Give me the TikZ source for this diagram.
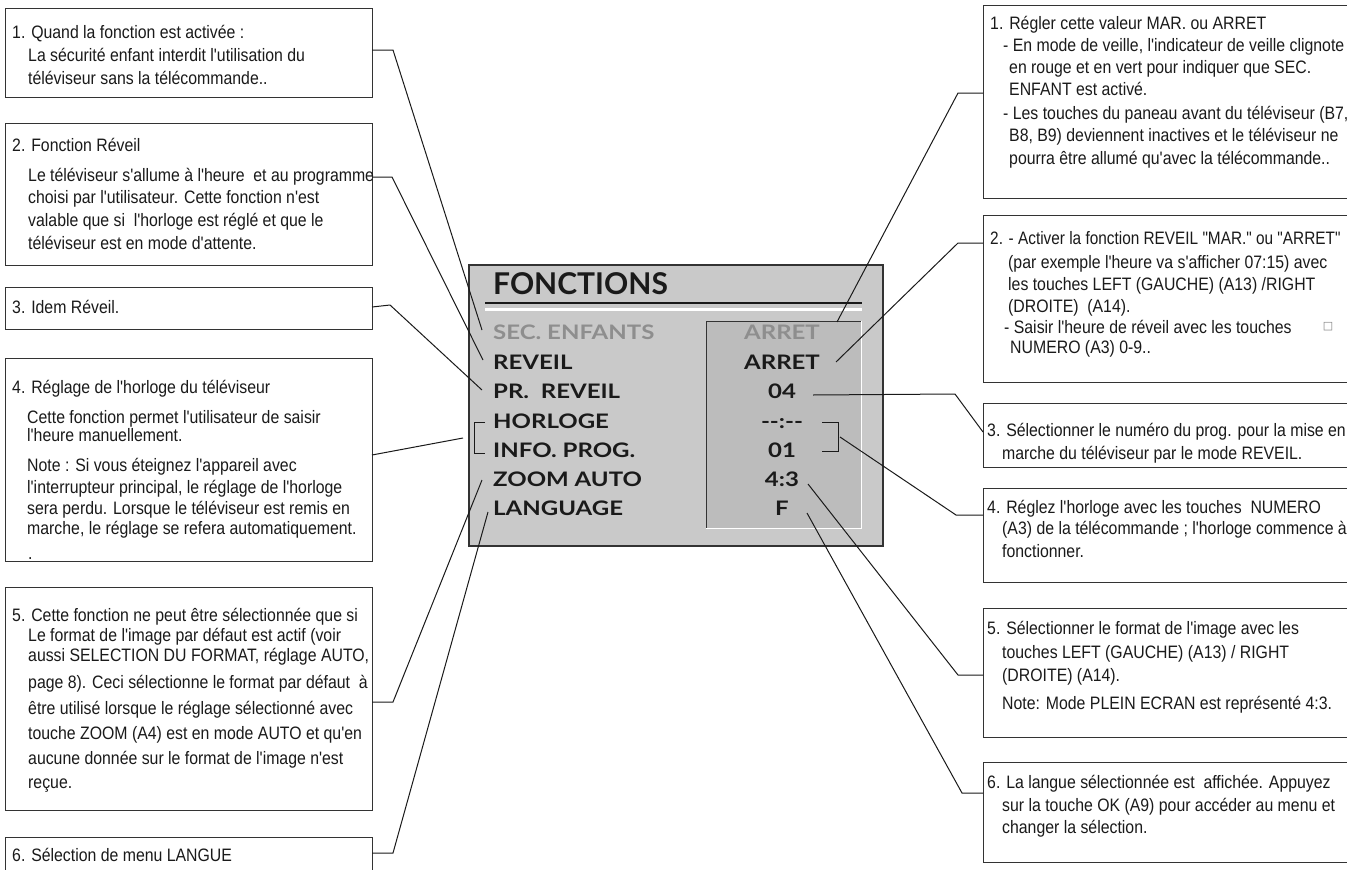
\documentclass[tikz,border=0pt]{standalone}
\usepackage{fontspec}
\usepackage{graphicx}
\setmainfont{Liberation Sans}
\newfontfamily\boxfont[FakeStretch=0.88,Ligatures=TeXOff]{Liberation Sans}
\newfontfamily\menufont[FakeStretch=1.2,Ligatures=TeXOff]{Lato}
\newfontfamily\titlefont{Lato}
\newfontfamily\symfont{DejaVu Sans}
\definecolor{ink}{HTML}{1A1A1A}
\definecolor{frame}{HTML}{333333}
\definecolor{panel}{HTML}{C9C9C9}
\definecolor{panelin}{HTML}{BCBCBC}
\definecolor{greytxt}{HTML}{8E8E8E}
\tikzset{
  bt/.style={font=\boxfont\fontsize{18}{22}\selectfont, text=ink, anchor=base west, inner sep=0pt},
  cbox/.style={draw=frame, line width=1.3pt, anchor=north west, inner sep=0pt},
  conn/.style={draw=ink, line width=1pt},
  mi/.style={font=\menufont\bfseries\fontsize{20}{20}\selectfont, text=ink, anchor=base west, inner sep=0pt},
  mv/.style={font=\menufont\bfseries\fontsize{20}{20}\selectfont, text=ink, anchor=base, inner sep=0pt}
}
\newcommand{\bxline}[4]{\node[bt] (#1) at (#2,#3+6.5) {#4};}
\newcommand{\cboxat}[5]{\node[cbox, minimum width=#4-#2, minimum height=#5-#3] (#1) at (#2,#3) {};}
\begin{document}
\begin{tikzpicture}[x=1pt,y=-1pt]
\useasboundingbox (0,0) rectangle (1347,870);
\fill[white] (0,0) rectangle (1347,870);

% ---------- left boxes ----------
\cboxat{L1}{5}{8}{372}{97}
\bxline{l1a}{12}{32}{1. Quand la fonction est activée :}
\bxline{l1b}{28}{55}{La sécurité enfant interdit l'utilisation du}
\bxline{l1c}{28}{78}{téléviseur sans la télécommande..}

\cboxat{L2}{5}{123}{372}{265}
\bxline{l2a}{12}{145}{2. Fonction Réveil}
\bxline{l2b}{28}{175}{Le téléviseur s'allume à l'heure\ \ et au programme}
\bxline{l2c}{28}{197}{choisi par l'utilisateur. Cette fonction n'est}
\bxline{l2d}{28}{220}{valable que si\ \ l'horloge est réglé et que le}
\bxline{l2e}{28}{243}{téléviseur est en mode d'attente.}

\cboxat{L3}{5}{287}{372}{329}
\bxline{l3a}{12}{307}{3. Idem Réveil.}

\cboxat{L4}{5}{358}{372}{561}
\bxline{l4a}{12}{387}{4. Réglage de l'horloge du téléviseur}
\bxline{l4b}{27}{417}{Cette fonction permet l'utilisateur de saisir}
\bxline{l4c}{27}{435}{l'heure manuellement.}
\bxline{l4d}{27}{465}{Note : Si vous éteignez l'appareil avec}
\bxline{l4e}{27}{487}{l'interrupteur principal, le réglage de l'horloge}
\bxline{l4f}{27}{508}{sera perdu. Lorsque le téléviseur est remis en}
\bxline{l4g}{27}{528}{marche, le réglage se refera automatiquement.}
\bxline{l4h}{28}{553}{.}

\cboxat{L5}{5}{587}{372}{810}
\bxline{l5a}{12}{615}{5. Cette fonction ne peut être sélectionnée que si}
\bxline{l5b}{28}{635}{Le format de l'image par défaut est actif (voir}
\bxline{l5c}{28}{655}{aussi SELECTION DU FORMAT, réglage AUTO,}
\bxline{l5d}{28}{682}{page 8). Ceci sélectionne le format par défaut\ \ à}
\bxline{l5e}{28}{708}{être utilisé lorsque le réglage sélectionné avec}
\bxline{l5f}{28}{733}{touche ZOOM (A4) est en mode AUTO et qu'en}
\bxline{l5g}{28}{758}{aucune donnée sur le format de l'image n'est}
\bxline{l5h}{28}{782}{reçue.}

\cboxat{L6}{5}{837}{372}{880}
\bxline{l6a}{12}{855}{6. Sélection de menu LANGUE}

% ---------- right boxes ----------
\cboxat{R1}{983}{5}{1355}{198}
\bxline{r1a}{990}{23}{1. Régler cette valeur MAR. ou ARRET}
\bxline{r1b}{1003}{45}{- En mode de veille, l'indicateur de veille clignote}
\bxline{r1c}{1009}{67}{en rouge et en vert pour indiquer que SEC.}
\bxline{r1d}{1009}{89}{ENFANT est activé.}
\bxline{r1e}{1003}{113}{- Les touches du paneau avant du téléviseur (B7,}
\bxline{r1f}{1009}{135}{B8, B9) deviennent inactives et le téléviseur ne}
\bxline{r1g}{1009}{158}{pourra être allumé qu'avec la télécommande..}

\cboxat{R2}{983}{215}{1355}{382}
\bxline{r2a}{990}{238}{\scalebox{0.97}[1]{2. - Activer la fonction REVEIL "MAR." ou "ARRET"}}
\bxline{r2b}{1008}{262}{(par exemple l'heure va s'afficher 07:15) avec}
\bxline{r2c}{1008}{284}{les touches LEFT (GAUCHE) (A13) /RIGHT}
\bxline{r2d}{1008}{306}{(DROITE)\ \ (A14).}
\bxline{r2e}{1004}{327}{- Saisir l'heure de réveil avec les touches}
\node[font=\symfont\fontsize{11}{11}\selectfont, text=gray, inner sep=0pt] (sq) at (1328,327) {□};
\bxline{r2f}{1010}{347}{NUMERO (A3) 0-9..}

\cboxat{R3}{983}{403}{1355}{467}
\bxline{r3a}{987}{430}{3. Sélectionner le numéro du prog. pour la mise en}
\bxline{r3b}{1002}{453}{marche du téléviseur par le mode REVEIL.}

\cboxat{R4}{983}{488}{1355}{582}
\bxline{r4a}{987}{507}{4. Réglez l'horloge avec les touches\ \ NUMERO}
\bxline{r4b}{1002}{528}{(A3) de la télécommande ; l'horloge commence à}
\bxline{r4c}{1002}{551}{fonctionner.}

\cboxat{R5}{983}{608}{1355}{737}
\bxline{r5a}{987}{628}{5. Sélectionner le format de l'image avec les}
\bxline{r5b}{1002}{652}{touches LEFT (GAUCHE) (A13) / RIGHT}
\bxline{r5c}{1002}{675}{(DROITE) (A14).}
\bxline{r5d}{1002}{703}{Note: Mode PLEIN ECRAN est représenté 4:3.}

\cboxat{R6}{983}{762}{1355}{862}
\bxline{r6a}{987}{782}{6. La langue sélectionnée est\ \ affichée. Appuyez}
\bxline{r6b}{1002}{805}{sur la touche OK (A9) pour accéder au menu et}
\bxline{r6c}{1002}{827}{changer la sélection.}

% ---------- menu panel ----------
\node[draw=frame, line width=1.5pt, fill=panel, anchor=north west, inner sep=0pt,
      minimum width=414, minimum height=281] (panel) at (468,264) {};
\node[font=\titlefont\bfseries\fontsize{30}{30}\selectfont, text=ink, anchor=base west, inner sep=0pt] (title) at (493,294) {FONCTIONS};
\draw[ink, line width=1.2pt] (485,303) -- (862,303);
\draw[white, line width=3pt] (485,309) -- (862,309);
\node[fill=panelin, anchor=north west, inner sep=0pt, minimum width=155, minimum height=207] (vals) at (706,321) {};
\draw[frame, line width=1pt] (vals.south west) -- (vals.north west) -- (vals.north east);
\draw[white, line width=1.5pt] (vals.north east) -- (vals.south east) -- (vals.south west);

\node[mi, text=greytxt] (m1) at (493,332+7.2) {SEC. ENFANTS};
\node[mi] (m2) at (493,362+7.2) {REVEIL};
\node[mi] (m3) at (493,391+7.2) {PR.\ \ REVEIL};
\node[mi] (m4) at (493,421+7.2) {HORLOGE};
\node[mi] (m5) at (493,450+7.2) {INFO. PROG.};
\node[mi] (m6) at (493,479+7.2) {ZOOM AUTO};
\node[mi] (m7) at (493,508+7.2) {LANGUAGE};

\node[mv, text=greytxt] (v1) at (782,332+7.2) {ARRET};
\node[mv] (v2) at (782,362+7.2) {ARRET};
\node[mv] (v3) at (782,391+7.2) {04};
\node[mv] (v4) at (782,421+7.2) {--:--};
\node[mv] (v5) at (782,450+7.2) {01};
\node[mv] (v6) at (782,479+7.2) {4:3};
\node[mv] (v7) at (782,508+7.2) {F};

% ---------- connector end points ----------
\coordinate (a1) at (372,50);   \coordinate (k1) at (393,50);   \coordinate (e1) at (482,330);
\coordinate (a2) at (372,177);  \coordinate (k2) at (392,177);  \coordinate (e2) at (483,360);
\coordinate (a3) at (372,307);  \coordinate (k3) at (390,305);  \coordinate (e3) at (482,390);
\coordinate (a4) at (372,455);  \coordinate (e4) at (463,438);
\coordinate (a5) at (372,702);  \coordinate (k5) at (393,702);  \coordinate (e5) at (482,480);
\coordinate (a6) at (372,853);  \coordinate (k6) at (393,853);  \coordinate (e6) at (488,512);

\coordinate (b1) at (983,93);   \coordinate (j1) at (958,93);   \coordinate (f1) at (837,322);
\coordinate (b2) at (983,243);  \coordinate (j2) at (958,243);  \coordinate (f2) at (836,362);
\coordinate (b3) at (983,432);  \coordinate (j3) at (955,394);  \coordinate (f3) at (813,395);
\coordinate (b4) at (983,515);  \coordinate (j4) at (956,515);  \coordinate (f4) at (840,437);
\coordinate (b5) at (983,675);  \coordinate (j5) at (958,675);  \coordinate (f5) at (808,484);
\coordinate (b6) at (983,793);  \coordinate (j6) at (962,793);  \coordinate (f6) at (807,513);

\draw[conn] (a1) -- (k1) -- (e1);
\draw[conn] (a2) -- (k2) -- (e2);
\draw[conn] (a3) -- (k3) -- (e3);
\draw[conn] (a4) -- (e4);
\draw[conn] (485,422) -- (474,422) -- (474,453) -- (485,453);
\draw[conn] (a5) -- (k5) -- (e5);
\draw[conn] (a6) -- (k6) -- (e6);

\draw[conn] (b1) -- (j1) -- (f1);
\draw[conn] (b2) -- (j2) -- (f2);
\draw[conn] (b3) -- (j3) -- (f3);
\draw[conn] (822,422) -- (838,422) -- (838,451) -- (822,451);
\draw[conn] (b4) -- (j4) -- (f4);
\draw[conn] (b5) -- (j5) -- (f5);
\draw[conn] (b6) -- (j6) -- (f6);
\end{tikzpicture}
\end{document}
